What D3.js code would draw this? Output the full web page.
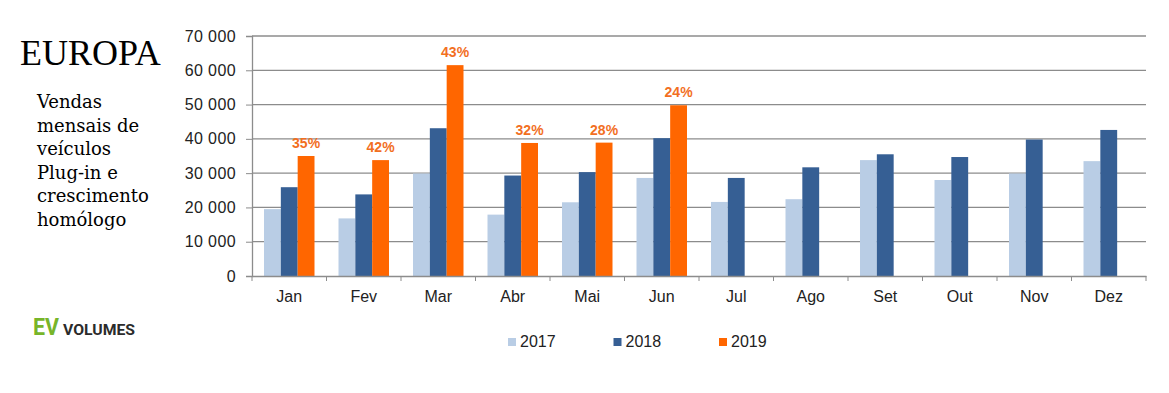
<!DOCTYPE html>
<html>
<head>
<meta charset="utf-8">
<script src="https://cdn.jsdelivr.net/npm/d3@7"></script>
<style>
  body { margin: 0; background: #fff; }
  svg { display: block; }
</style>
</head>
<body>
<script>
var months = ["Jan", "Fev", "Mar", "Abr", "Mai", "Jun", "Jul", "Ago", "Set", "Out", "Nov", "Dez"];
var years = ["2017", "2018", "2019"];
var sales2017 = [19500, 16800, 29900, 17900, 21500, 28600, 21600, 22400, 33800, 28000, 29900, 33500];
var sales2018 = [25900, 23800, 43100, 29300, 30300, 40200, 28600, 31700, 35500, 34700, 39800, 42600];
var sales2019 = [35000, 33800, 61500, 38800, 38900, 49800, null, null, null, null, null, null];
var growth2019 = ["35%", "42%", "43%", "32%", "28%", "24%", null, null, null, null, null, null];
var yTicks = [0, 10000, 20000, 30000, 40000, 50000, 60000, 70000];

var width = 1169, height = 393;
var margin = {top: 36, right: 23, bottom: 117, left: 252};

var colors = {"2017": "#b9cde5", "2018": "#365f94", "2019": "#ff6600"};

var series = {"2017": sales2017, "2018": sales2018, "2019": sales2019};

var data = months.map(function(m, i) {
  return {
    month: m,
    label: growth2019[i],
    values: years.map(function(yr) { return {year: yr, value: series[yr][i]}; })
  };
});

var svg = d3.select("body").append("svg")
    .attr("width", width)
    .attr("height", height);

var x = d3.scaleBand()
    .domain(months)
    .range([margin.left, width - margin.right]);

var x1 = d3.scaleBand()
    .domain(years)
    .range([12, x.bandwidth() - 12]);

var y = d3.scaleLinear()
    .domain([0, 70000])
    .range([height - margin.bottom, margin.top]);

var fmt = function(d) { return d3.format(",")(d).replace(/,/g, " "); };

// gridlines
svg.append("g")
  .selectAll("line")
  .data(yTicks.slice(1))
  .join("line")
    .attr("x1", margin.left)
    .attr("x2", width - margin.right)
    .attr("y1", d => y(d))
    .attr("y2", d => y(d))
    .attr("stroke", "#8c8c8c")
    .attr("stroke-width", 1.3);

// bars
var groups = svg.append("g")
  .selectAll("g")
  .data(data)
  .join("g")
    .attr("transform", d => `translate(${x(d.month)},0)`);

groups.selectAll("rect")
  .data(d => d.values.filter(v => v.value != null))
  .join("rect")
    .attr("x", d => x1(d.year))
    .attr("y", d => y(d.value))
    .attr("width", x1.bandwidth())
    .attr("height", d => y(0) - y(d.value))
    .attr("fill", d => colors[d.year]);

// growth labels
groups.filter(d => d.label)
  .append("text")
    .attr("x", x1("2019") + x1.bandwidth() / 2)
    .attr("y", d => y(d.values[2].value) - 8)
    .attr("text-anchor", "middle")
    .attr("font-family", "Liberation Sans, Arial, sans-serif")
    .attr("font-size", "14px")
    .attr("font-weight", "bold")
    .attr("fill", "#f26f1f")
    .text(d => d.label);

// y axis
var yAxis = svg.append("g")
    .attr("transform", `translate(${margin.left},0)`)
    .call(d3.axisLeft(y).tickValues(yTicks).tickSize(6).tickPadding(10).tickFormat(fmt));
yAxis.select(".domain").attr("stroke", "#8c8c8c").attr("stroke-width", 1.3);
yAxis.selectAll(".tick line").attr("stroke", "#8c8c8c");
yAxis.selectAll("text")
    .attr("font-family", "Liberation Sans, Arial, sans-serif")
    .attr("font-size", "16px")
    .attr("letter-spacing", "0.4px")
    .attr("fill", "#222");

// x axis
var xAxis = svg.append("g")
    .attr("transform", `translate(0,${y(0)})`)
    .call(d3.axisBottom(x).tickSize(0).tickPadding(15));
xAxis.select(".domain").attr("stroke", "#8c8c8c").attr("stroke-width", 1.3);
xAxis.selectAll("text")
    .attr("font-family", "Liberation Sans, Arial, sans-serif")
    .attr("font-size", "16px")
    .attr("fill", "#222");

// category boundary ticks
xAxis.append("g")
  .selectAll("line")
  .data(months.concat(["end"]))
  .join("line")
    .attr("x1", (d, i) => margin.left + i * x.step())
    .attr("x2", (d, i) => margin.left + i * x.step())
    .attr("y1", 0)
    .attr("y2", 5)
    .attr("stroke", "#8c8c8c");

// legend
var legend = svg.append("g")
  .selectAll("g")
  .data(years)
  .join("g")
    .attr("transform", (d, i) => `translate(${508 + i * 105.5},338)`);
legend.append("rect")
    .attr("width", 8)
    .attr("height", 8)
    .attr("fill", d => colors[d]);
legend.append("text")
    .attr("x", 12)
    .attr("y", 9)
    .attr("font-family", "Liberation Sans, Arial, sans-serif")
    .attr("font-size", "16px")
    .attr("fill", "#222")
    .text(d => d);

// title block on the left
svg.append("text")
    .attr("x", 20)
    .attr("y", 65)
    .attr("font-family", "Liberation Serif, Times New Roman, serif")
    .attr("font-size", "36px")
    .attr("fill", "#000")
    .text("EUROPA");

var subtitle = ["Vendas", "mensais de", "veículos", "Plug-in e", "crescimento", "homólogo"];
svg.append("g")
  .selectAll("text")
  .data(subtitle)
  .join("text")
    .attr("x", 37)
    .attr("y", (d, i) => 108 + i * 23.5)
    .attr("font-family", "DejaVu Serif, serif")
    .attr("font-size", "18px")
    .attr("fill", "#000")
    .text(d => d);

// EV Volumes logo
svg.append("text")
    .attr("x", 33)
    .attr("y", 335)
    .attr("font-family", "Liberation Sans Narrow, Roboto, Arial, sans-serif")
    .attr("font-size", "23px")
    .attr("font-weight", "bold")
    .attr("fill", "#77b52a")
    .attr("textLength", 26)
    .attr("lengthAdjust", "spacingAndGlyphs")
    .text("EV");
svg.append("text")
    .attr("x", 63)
    .attr("y", 335)
    .attr("font-family", "Liberation Sans Narrow, Roboto, Arial, sans-serif")
    .attr("font-size", "14.5px")
    .attr("font-weight", "bold")
    .attr("fill", "#2b2b2b")
    .attr("textLength", 72)
    .attr("lengthAdjust", "spacingAndGlyphs")
    .text("VOLUMES");
</script>
</body>
</html>
